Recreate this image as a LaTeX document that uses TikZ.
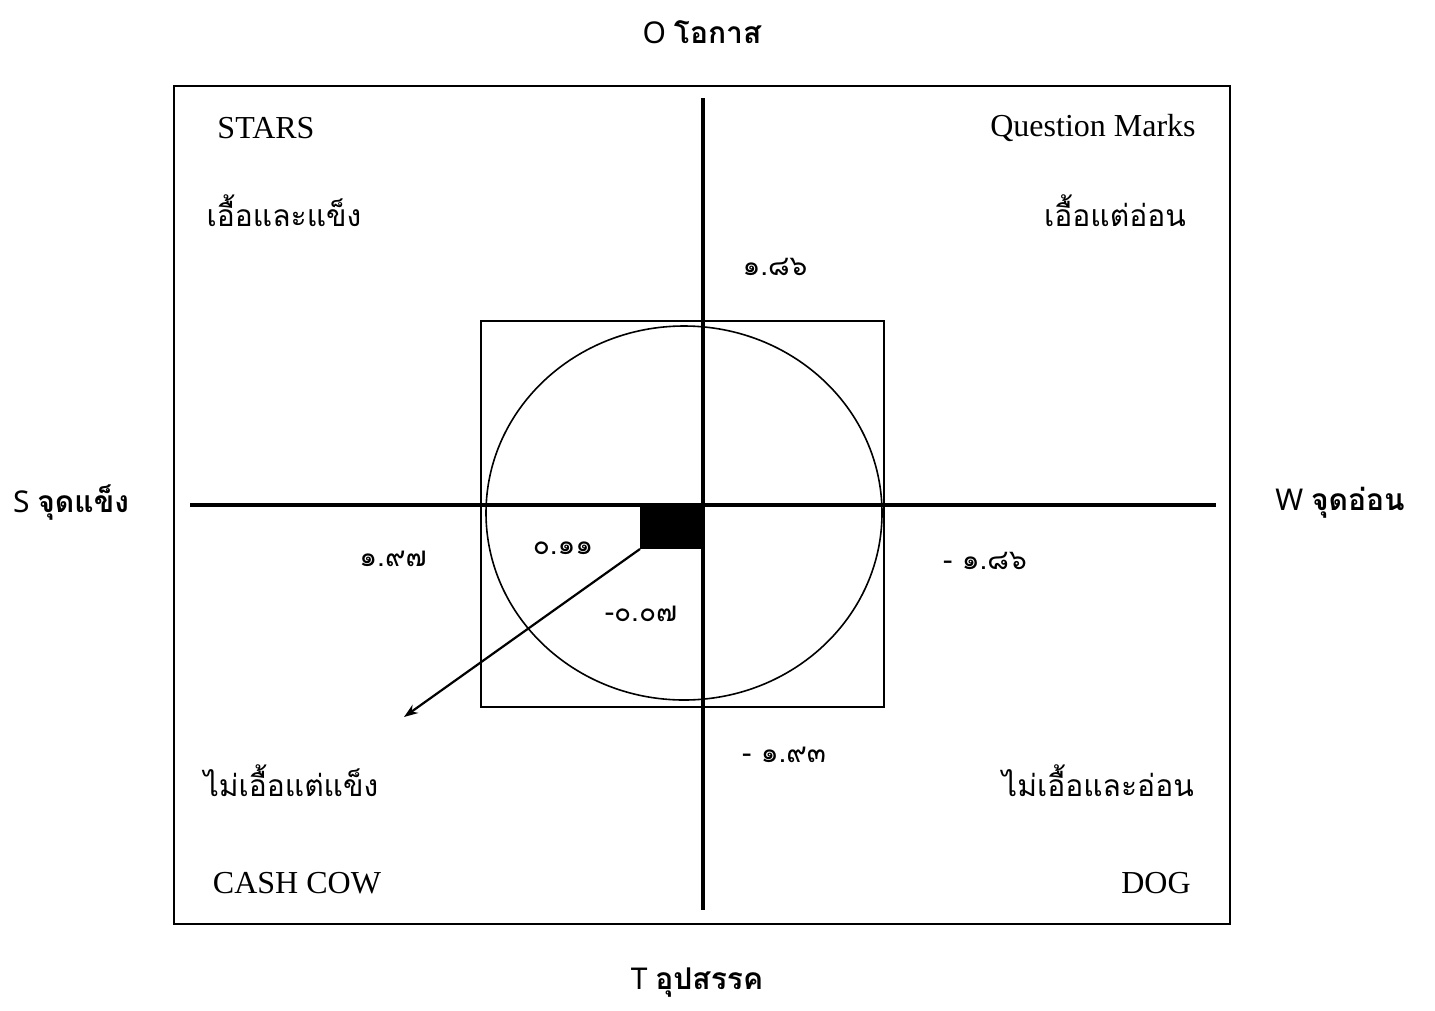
\documentclass[tikz,border=0pt]{standalone}
\usepackage{fontspec}
\usetikzlibrary{arrows.meta}
\setmainfont{Liberation Serif}
\newfontfamily\thai[Script=Thai]{Loma}
\newfontfamily\axisfont{Noto Sans}
\begin{document}
\begin{tikzpicture}[x=1pt,y=-1pt,
  thick axis/.style={line width=4pt},
  thin box/.style={line width=1.2pt},
  eng/.style={font=\fontsize{32}{36}\selectfont},
  thlab/.style={font=\thai\fontsize{30}{36}\selectfont},
  num/.style={font=\thai\fontsize{28}{32}\selectfont},
  axlab/.style={font=\fontsize{30}{36}\selectfont}]
\useasboundingbox (0,0) rectangle (1435,1010);
\fill[white] (0,0) rectangle (1435,1010);
% outer frame
\draw[line width=1.8pt] (174,86) rectangle (1230,924);
% inner square
\draw[thin box] (481,321) rectangle (884,707);
% ellipse
\draw[line width=1.6pt] (684,513) ellipse [x radius=198, y radius=187];
% axes
\coordinate (vt) at (703,98);
\coordinate (vb) at (703,910);
\coordinate (hl) at (190,505);
\coordinate (hr) at (1216,505);
\draw[thick axis] (vt) -- (vb);
\draw[thick axis] (hl) -- (hr);
% black rectangle
\fill (640,505) rectangle (703,549);
\coordinate (arrstart) at (640,549);
\coordinate (arrend) at (404,717);
\draw[line width=2.2pt,-{Stealth[length=14pt,width=10pt]}] (arrstart) -- (arrend);
% quadrant labels
\node[eng] (stars) at (266,128) {STARS};
\node[eng] (qm) at (1093,128) {Question Marks};
\node[eng] (cc) at (297,883) {CASH COW};
\node[eng] (dog) at (1156,883) {DOG};
\node[thlab] (q1) at (284,211) {\thai เอื้อและแข็ง};
\node[thlab] (q2) at (1115,211) {\thai เอื้อแต่อ่อน};
\node[thlab] (q3) at (291,781) {\thai ไม่เอื้อแต่แข็ง};
\node[thlab] (q4) at (1098,781) {\thai ไม่เอื้อและอ่อน};
% numbers
\node[num] (n1) at (775,267) {๑.๘๖};
\node[num] (n2) at (393,559) {๑.๙๗};
\node[num] (n3) at (563,548) {๐.๑๑};
\node[num] (n4) at (641,614) {-๐.๐๗};
\node[num] (n5) at (985,561) {- ๑.๘๖};
\node[num] (n6) at (784,755) {- ๑.๙๓};
% axis labels
\node[axlab] (o) at (702,32) {\axisfont O \thai\bfseries โอกาส};
\node[axlab] (s) at (71,503) {\axisfont S \thai\bfseries จุดแข็ง};
\node[axlab] (w) at (1340,503) {\axisfont W \thai\bfseries จุดอ่อน};
\node[axlab] (t) at (697,983) {\axisfont T \thai\bfseries อุปสรรค};
\end{tikzpicture}
\end{document}
